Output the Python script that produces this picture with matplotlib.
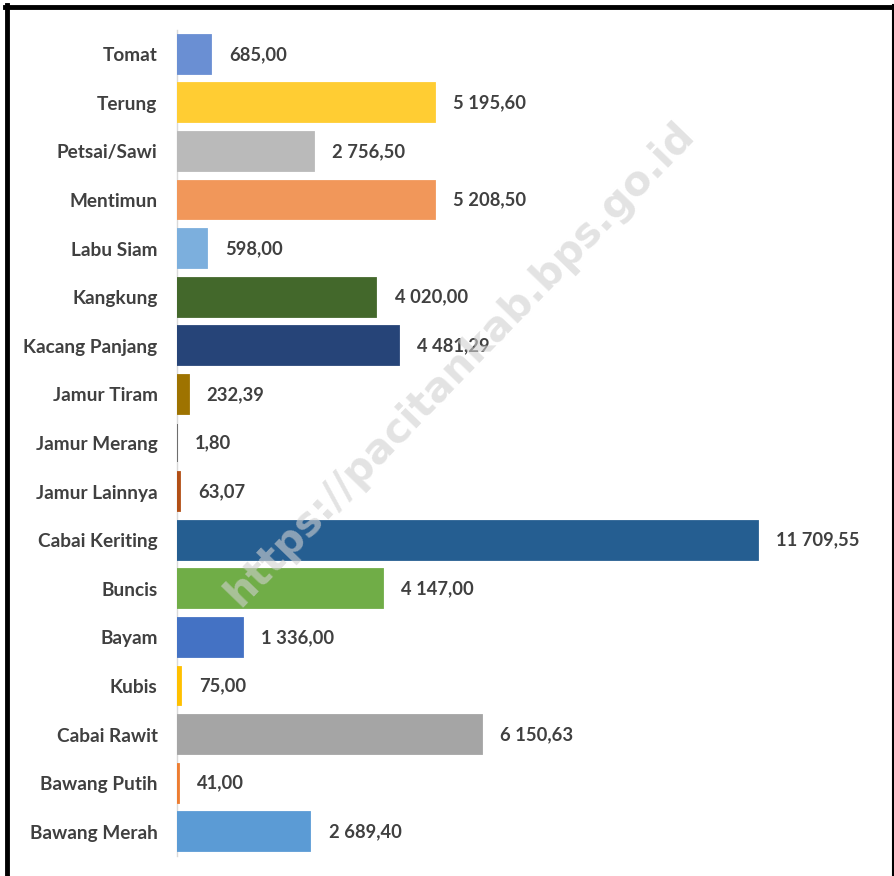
import matplotlib
matplotlib.use("Agg")
import matplotlib.pyplot as plt
from matplotlib.lines import Line2D

categories = ["Tomat", "Terung", "Petsai/Sawi", "Mentimun", "Labu Siam", "Kangkung",
              "Kacang Panjang", "Jamur Tiram", "Jamur Merang", "Jamur Lainnya",
              "Cabai Keriting", "Buncis", "Bayam", "Kubis", "Cabai Rawit",
              "Bawang Putih", "Bawang Merah"]
values = [685.00, 5195.60, 2756.50, 5208.50, 598.00, 4020.00, 4481.29, 232.39, 1.80,
          63.07, 11709.55, 4147.00, 1336.00, 75.00, 6150.63, 41.00, 2689.40]
value_labels = ["685,00", "5 195,60", "2 756,50", "5 208,50", "598,00", "4 020,00",
                "4 481,29", "232,39", "1,80", "63,07", "11 709,55", "4 147,00",
                "1 336,00", "75,00", "6 150,63", "41,00", "2 689,40"]
colors = ["#6A8FD3", "#FFCD33", "#BABABA", "#F1975A", "#7CAFDD", "#43682B",
          "#264478", "#9E7300", "#636363", "#B24F16", "#255E91", "#70AD47",
          "#4472C4", "#FFC000", "#A5A5A5", "#ED7D31", "#5B9BD5"]
watermark = "https://pacitankab.bps.go.id"

plt.rcParams["font.family"] = ["Lato", "DejaVu Sans"]

fig = plt.figure(figsize=(8.94, 8.76), dpi=100)
ax = fig.add_axes([0.198, 0.0228, 0.777, 0.943])

ypos = list(range(len(categories)))
ax.barh(ypos, values, height=0.8, color=colors, edgecolor=colors, linewidth=1.3, zorder=3)
ax.set_ylim(len(categories) - 0.5, -0.5)
ax.set_xlim(0, 14000)
ax.set_yticks(ypos)
ax.set_yticklabels(categories, fontsize=13.7, fontweight="bold", color="#404040")
ax.tick_params(axis="y", length=0, pad=14)
ax.set_xticks([])
for s in ["top", "right", "bottom"]:
    ax.spines[s].set_visible(False)
ax.spines["left"].set_color("#D9D9D9")
ax.spines["left"].set_linewidth(1)
ax.spines["left"].set_zorder(1)

for y, v, lab in zip(ypos, values, value_labels):
    ax.annotate(lab, (v, y), xytext=(13, 0), textcoords="offset points",
                va="center", ha="left", fontsize=13.2, fontweight="bold",
                color="#404040", zorder=5)

fig.text(0.515, 0.585, watermark, rotation=46, ha="center", va="center",
         fontsize=29.5, fontweight="bold", color="#D0D0D0", alpha=0.6, zorder=4,
         family=["DejaVu Sans"])

# frame
fig.add_artist(Line2D([7/894, 7/894], [0, 1 - 5/876], color="black", lw=3.5,
                      transform=fig.transFigure))
fig.add_artist(Line2D([5/894, 893/894], [1 - 6.5/876, 1 - 6.5/876], color="black", lw=3.5,
                      transform=fig.transFigure))
fig.add_artist(Line2D([892.5/894, 892.5/894], [0, 1 - 5/876], color="black", lw=1.5,
                      transform=fig.transFigure))

fig.savefig("out.png", dpi=100, facecolor="white")
